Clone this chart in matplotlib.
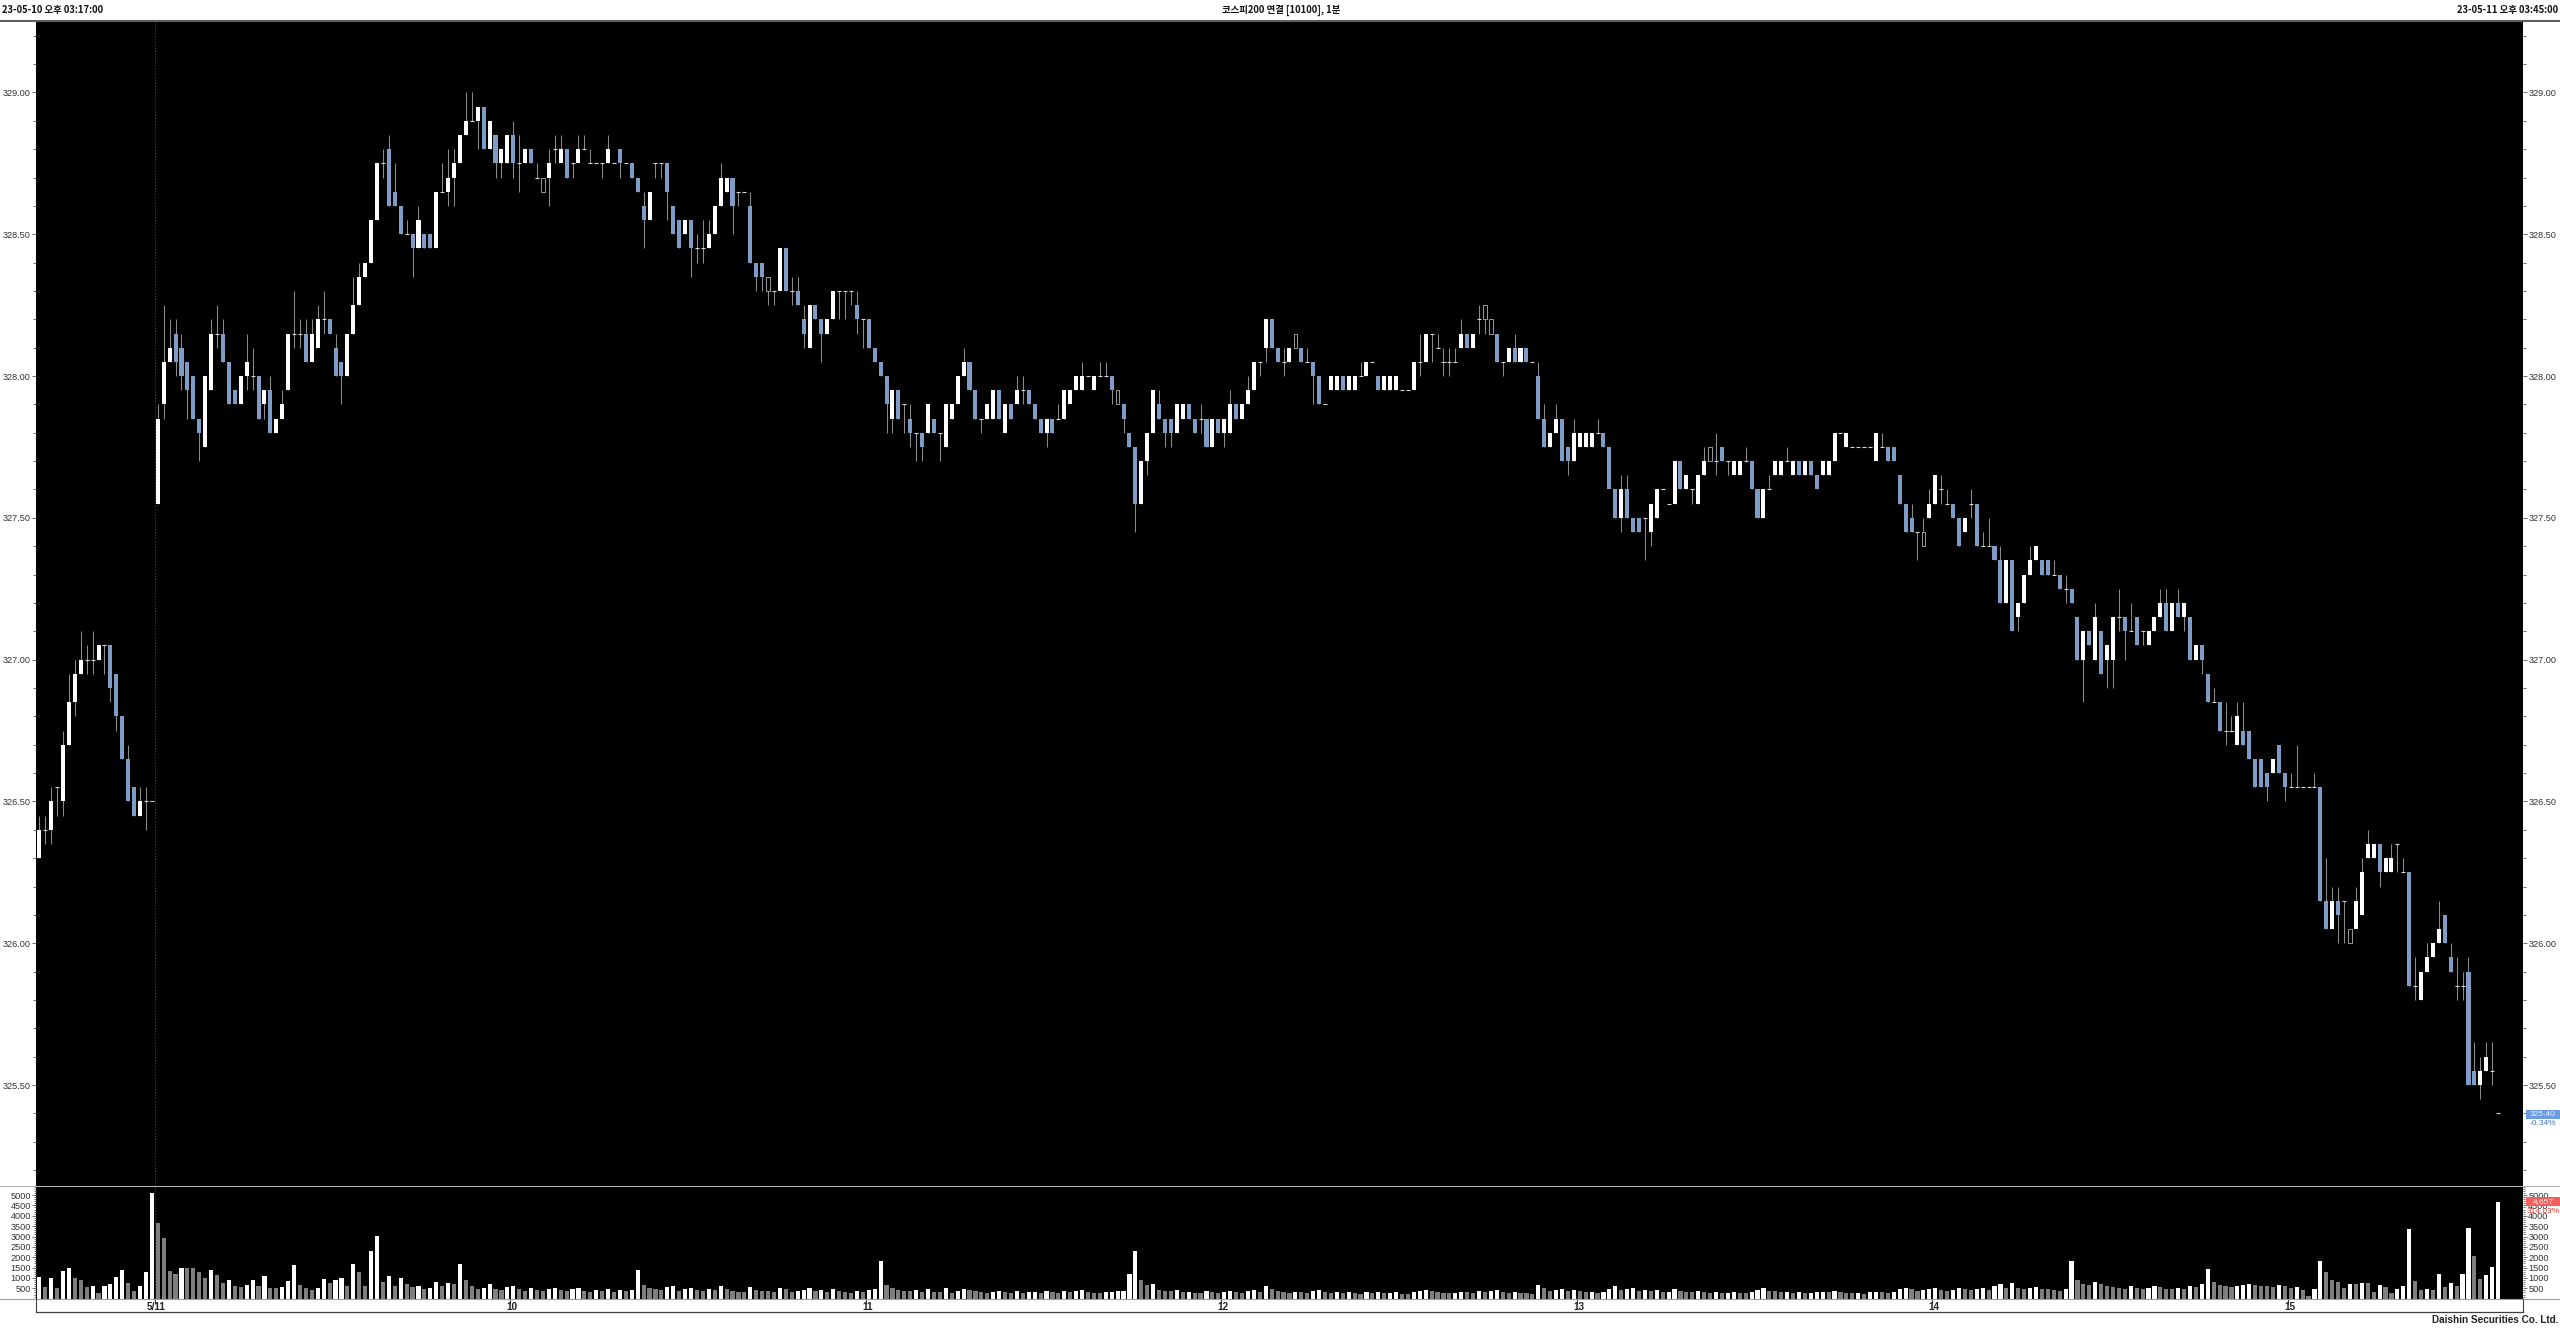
import matplotlib
matplotlib.use('Agg')
import matplotlib.pyplot as plt
from matplotlib.lines import Line2D
from matplotlib.patches import Rectangle
from matplotlib.ticker import MultipleLocator, FixedLocator, FormatStrFormatter
import numpy as np

# ---------------- data ----------------
opens = [
 326.30,326.40,326.40,326.55,326.50,326.70,326.85,326.95,327.00,327.00,
 327.00,327.05,327.05,326.95,326.80,326.65,326.55,326.45,326.50,326.50,
 327.55,327.90,328.05,328.15,328.10,328.05,328.00,327.85,327.75,327.95,
 328.15,328.15,328.05,327.95,327.90,328.00,328.00,328.00,327.90,327.95,
 327.80,327.85,327.95,328.15,328.15,328.15,328.05,328.10,328.20,328.20,
 328.10,328.05,328.00,328.15,328.25,328.35,328.40,328.55,328.75,328.80,
 328.65,328.60,328.50,328.50,328.45,328.50,328.50,328.45,328.65,328.65,
 328.70,328.75,328.85,328.90,328.90,328.95,328.80,328.85,328.75,328.75,
 328.85,328.75,328.75,328.80,328.70,328.70,328.70,328.80,328.75,328.80,
 328.75,328.75,328.80,328.75,328.75,328.75,328.75,328.75,328.80,328.75,
 328.75,328.70,328.60,328.55,328.75,328.75,328.75,328.60,328.55,328.50,
 328.55,328.45,328.45,328.45,328.50,328.60,328.65,328.70,328.65,328.65,
 328.60,328.40,328.40,328.35,328.30,328.30,328.45,328.30,328.30,328.20,
 328.10,328.25,328.20,328.15,328.20,328.30,328.30,328.30,328.25,328.20,
 328.20,328.10,328.05,328.00,327.85,327.95,327.90,327.85,327.80,327.80,
 327.80,327.85,327.80,327.75,327.85,327.90,328.00,328.05,327.95,327.85,
 327.85,327.85,327.95,327.80,327.90,327.90,327.95,327.95,327.90,327.85,
 327.80,327.85,327.85,327.85,327.90,327.95,327.95,328.00,327.95,328.00,
 328.00,328.00,327.95,327.90,327.80,327.75,327.55,327.70,327.80,327.90,
 327.85,327.85,327.80,327.85,327.90,327.85,327.85,327.85,327.75,327.85,
 327.80,327.80,327.90,327.85,327.90,327.95,328.05,328.10,328.20,328.10,
 328.05,328.05,328.10,328.10,328.05,328.05,328.00,327.90,327.95,327.95,
 328.00,327.95,327.95,328.00,328.00,328.05,328.00,327.95,327.95,327.95,
 327.95,327.95,327.95,328.05,328.05,328.15,328.10,328.05,328.05,328.05,
 328.10,328.15,328.10,328.20,328.20,328.20,328.15,328.05,328.05,328.10,
 328.05,328.10,328.05,328.00,327.85,327.75,327.80,327.85,327.75,327.70,
 327.75,327.75,327.75,327.80,327.80,327.75,327.60,327.50,327.60,327.50,
 327.50,327.50,327.45,327.50,327.60,327.55,327.55,327.70,327.60,327.60,
 327.55,327.65,327.70,327.70,327.75,327.70,327.65,327.65,327.70,327.70,
 327.60,327.50,327.60,327.65,327.65,327.70,327.65,327.70,327.65,327.70,
 327.65,327.65,327.65,327.70,327.80,327.75,327.75,327.75,327.75,327.75,
 327.70,327.75,327.75,327.75,327.65,327.55,327.50,327.45,327.45,327.50,
 327.55,327.60,327.55,327.55,327.50,327.45,327.55,327.55,327.40,327.40,
 327.40,327.35,327.20,327.35,327.15,327.20,327.30,327.35,327.35,327.35,
 327.30,327.30,327.25,327.25,327.15,327.00,327.10,327.00,327.10,327.00,
 327.00,327.15,327.15,327.10,327.15,327.10,327.05,327.10,327.15,327.20,
 327.10,327.20,327.15,327.15,327.00,327.05,326.95,326.85,326.85,326.75,
 326.75,326.70,326.75,326.75,326.65,326.65,326.60,326.60,326.70,326.60,
 326.55,326.55,326.55,326.55,326.55,326.55,326.15,326.05,326.15,326.15,
 326.05,326.05,326.10,326.30,326.30,326.35,326.25,326.25,326.35,326.25,
 326.25,325.85,325.80,325.90,325.95,326.00,326.10,325.95,325.85,325.85,
 325.90,325.55,325.50,325.55,325.55,325.40]
closes = [
 326.40,326.40,326.50,326.55,326.70,326.85,326.95,327.00,327.00,327.00,
 327.05,327.05,326.90,326.80,326.65,326.50,326.45,326.50,326.50,326.50,
 327.85,328.05,328.10,328.05,328.00,327.95,327.85,327.80,328.00,328.15,
 328.15,328.05,327.90,327.90,328.00,328.05,328.00,327.85,327.95,327.80,
 327.85,327.90,328.15,328.15,328.15,328.05,328.15,328.20,328.20,328.15,
 328.00,328.00,328.15,328.25,328.35,328.40,328.55,328.75,328.75,328.60,
 328.60,328.50,328.50,328.45,328.55,328.45,328.45,328.65,328.65,328.70,
 328.75,328.85,328.90,328.90,328.95,328.80,328.90,328.75,328.80,328.85,
 328.75,328.75,328.80,328.75,328.70,328.65,328.75,328.80,328.80,328.70,
 328.75,328.80,328.80,328.75,328.75,328.75,328.80,328.75,328.75,328.75,
 328.70,328.65,328.55,328.65,328.75,328.75,328.65,328.50,328.45,328.55,
 328.45,328.45,328.45,328.50,328.60,328.70,328.70,328.60,328.65,328.65,
 328.40,328.35,328.35,328.30,328.30,328.45,328.30,328.30,328.25,328.15,
 328.25,328.20,328.15,328.20,328.30,328.30,328.30,328.30,328.20,328.20,
 328.10,328.05,328.00,327.90,327.95,327.85,327.90,327.80,327.80,327.75,
 327.90,327.80,327.80,327.90,327.90,328.00,328.05,327.95,327.85,327.85,
 327.90,327.95,327.85,327.90,327.85,327.95,327.95,327.90,327.85,327.80,
 327.85,327.80,327.85,327.95,327.95,328.00,328.00,328.00,328.00,328.00,
 328.00,327.95,327.90,327.85,327.75,327.55,327.70,327.80,327.95,327.85,
 327.80,327.80,327.90,327.90,327.85,327.80,327.85,327.75,327.85,327.80,
 327.85,327.90,327.85,327.90,327.95,328.05,328.05,328.20,328.10,328.05,
 328.05,328.10,328.15,328.05,328.05,328.00,327.90,327.90,328.00,328.00,
 327.95,328.00,328.00,328.00,328.05,328.05,327.95,328.00,328.00,328.00,
 327.95,327.95,328.05,328.05,328.15,328.15,328.10,328.05,328.05,328.05,
 328.15,328.10,328.15,328.20,328.25,328.15,328.05,328.05,328.10,328.05,
 328.10,328.05,328.05,327.85,327.75,327.80,327.85,327.70,327.70,327.80,
 327.80,327.80,327.80,327.80,327.75,327.60,327.50,327.60,327.50,327.45,
 327.45,327.50,327.55,327.60,327.60,327.55,327.70,327.60,327.65,327.60,
 327.65,327.70,327.75,327.70,327.70,327.70,327.70,327.70,327.70,327.60,
 327.50,327.60,327.60,327.70,327.70,327.70,327.70,327.65,327.70,327.65,
 327.60,327.70,327.70,327.80,327.80,327.80,327.75,327.75,327.75,327.75,
 327.80,327.75,327.70,327.70,327.55,327.45,327.45,327.45,327.40,327.55,
 327.65,327.60,327.55,327.50,327.40,327.50,327.55,327.40,327.40,327.40,
 327.35,327.20,327.35,327.10,327.20,327.30,327.35,327.40,327.30,327.30,
 327.30,327.25,327.25,327.20,327.00,327.10,327.05,327.15,326.95,327.05,
 327.15,327.15,327.10,327.10,327.05,327.10,327.10,327.15,327.20,327.10,
 327.20,327.15,327.20,327.00,327.05,327.00,326.85,326.85,326.75,326.75,
 326.75,326.80,326.70,326.65,326.55,326.55,326.55,326.65,326.60,326.55,
 326.55,326.55,326.55,326.55,326.55,326.15,326.05,326.15,326.10,326.15,
 326.00,326.15,326.25,326.35,326.35,326.25,326.30,326.30,326.35,326.25,
 325.85,325.85,325.90,325.95,326.00,326.05,326.00,325.90,325.85,325.85,
 325.50,325.50,325.55,325.60,325.55,325.40]
highs = [
 326.45,326.45,326.55,326.55,326.75,326.95,327.00,327.10,327.05,327.10,
 327.05,327.05,327.05,326.95,326.80,326.70,326.55,326.55,326.55,326.50,
 327.90,328.25,328.20,328.20,328.15,328.05,328.00,327.85,328.00,328.20,
 328.25,328.20,328.05,327.95,328.00,328.15,328.10,328.00,327.95,328.00,
 327.85,327.95,328.15,328.30,328.20,328.20,328.20,328.25,328.30,328.20,
 328.15,328.05,328.15,328.35,328.40,328.40,328.55,328.75,328.80,328.85,
 328.75,328.60,328.55,328.50,328.60,328.50,328.50,328.65,328.75,328.80,
 328.80,328.85,329.00,329.00,328.95,328.95,328.90,328.85,328.80,328.85,
 328.90,328.85,328.80,328.80,328.75,328.70,328.80,328.85,328.85,328.80,
 328.75,328.85,328.85,328.80,328.75,328.75,328.85,328.75,328.80,328.75,
 328.75,328.70,328.65,328.65,328.75,328.75,328.75,328.60,328.55,328.55,
 328.55,328.50,328.55,328.55,328.60,328.75,328.70,328.70,328.65,328.65,
 328.65,328.40,328.40,328.35,328.30,328.45,328.45,328.35,328.35,328.25,
 328.25,328.25,328.20,328.20,328.30,328.30,328.30,328.30,328.30,328.20,
 328.20,328.10,328.05,328.00,327.95,327.95,327.90,327.90,327.80,327.80,
 327.90,327.85,327.80,327.90,327.90,328.00,328.10,328.05,327.95,327.85,
 327.90,327.95,327.95,327.90,327.90,328.00,328.00,327.95,327.90,327.85,
 327.85,327.85,327.90,327.95,327.95,328.00,328.05,328.00,328.00,328.05,
 328.05,328.00,327.95,327.90,327.80,327.75,327.70,327.80,327.95,327.95,
 327.85,327.85,327.90,327.90,327.90,327.85,327.90,327.85,327.85,327.85,
 327.85,327.95,327.90,327.90,328.00,328.05,328.05,328.20,328.20,328.10,
 328.10,328.10,328.15,328.10,328.10,328.05,328.00,327.90,328.00,328.00,
 328.00,328.00,328.00,328.05,328.05,328.05,328.00,328.00,328.00,328.00,
 327.95,327.95,328.05,328.15,328.15,328.15,328.15,328.10,328.10,328.10,
 328.20,328.15,328.15,328.25,328.25,328.20,328.15,328.05,328.10,328.15,
 328.10,328.10,328.05,328.05,327.90,327.80,327.90,327.85,327.75,327.85,
 327.80,327.80,327.80,327.85,327.80,327.75,327.60,327.65,327.65,327.50,
 327.50,327.50,327.55,327.60,327.60,327.55,327.70,327.70,327.65,327.60,
 327.65,327.75,327.75,327.80,327.75,327.70,327.70,327.70,327.75,327.70,
 327.60,327.60,327.65,327.70,327.70,327.75,327.70,327.70,327.70,327.70,
 327.65,327.70,327.70,327.80,327.80,327.80,327.75,327.75,327.75,327.75,
 327.80,327.80,327.75,327.75,327.65,327.55,327.55,327.45,327.50,327.60,
 327.65,327.65,327.60,327.55,327.50,327.50,327.60,327.55,327.45,327.50,
 327.40,327.40,327.35,327.35,327.20,327.30,327.40,327.40,327.35,327.35,
 327.35,327.30,327.30,327.25,327.15,327.10,327.10,327.20,327.10,327.05,
 327.15,327.25,327.15,327.20,327.15,327.10,327.10,327.15,327.25,327.25,
 327.20,327.25,327.20,327.15,327.05,327.05,326.95,326.90,326.85,326.85,
 326.80,326.85,326.85,326.75,326.65,326.65,326.60,326.65,326.70,326.60,
 326.60,326.70,326.55,326.55,326.60,326.55,326.30,326.20,326.20,326.15,
 326.05,326.20,326.30,326.40,326.35,326.35,326.30,326.35,326.35,326.30,
 326.25,325.95,325.90,326.00,326.00,326.15,326.10,326.00,325.95,325.90,
 325.95,325.65,325.60,325.65,325.65,325.40]
lows = [
 326.30,326.35,326.35,326.45,326.45,326.70,326.80,326.95,326.95,326.95,
 327.00,326.95,326.85,326.75,326.65,326.50,326.45,326.45,326.40,326.50,
 327.55,327.85,328.05,328.00,327.95,327.85,327.85,327.70,327.75,327.95,
 328.10,328.05,327.90,327.90,327.90,327.95,327.95,327.85,327.85,327.80,
 327.80,327.85,327.95,328.10,328.10,328.05,328.05,328.10,328.15,328.15,
 328.00,327.90,328.00,328.15,328.25,328.35,328.40,328.55,328.70,328.60,
 328.60,328.50,328.50,328.35,328.45,328.45,328.45,328.45,328.65,328.60,
 328.60,328.75,328.85,328.90,328.80,328.80,328.80,328.70,328.70,328.75,
 328.70,328.65,328.75,328.75,328.70,328.65,328.60,328.75,328.75,328.70,
 328.70,328.75,328.80,328.75,328.75,328.70,328.75,328.75,328.70,328.75,
 328.70,328.65,328.45,328.55,328.70,328.70,328.55,328.50,328.45,328.50,
 328.35,328.40,328.40,328.45,328.50,328.60,328.65,328.50,328.60,328.65,
 328.40,328.30,328.30,328.25,328.25,328.30,328.30,328.25,328.25,328.10,
 328.10,328.20,328.05,328.15,328.20,328.20,328.20,328.25,328.15,328.10,
 328.10,328.05,328.00,327.80,327.80,327.85,327.80,327.75,327.70,327.70,
 327.80,327.80,327.70,327.75,327.85,327.90,328.00,327.95,327.85,327.80,
 327.85,327.85,327.85,327.80,327.85,327.90,327.90,327.90,327.85,327.80,
 327.75,327.80,327.85,327.85,327.90,327.95,327.95,328.00,327.95,328.00,
 328.00,327.90,327.90,327.80,327.75,327.45,327.55,327.65,327.80,327.85,
 327.75,327.75,327.80,327.85,327.85,327.80,327.80,327.75,327.75,327.80,
 327.75,327.80,327.85,327.85,327.90,327.95,328.00,328.05,328.10,328.05,
 328.00,328.05,328.10,328.05,328.05,327.90,327.90,327.90,327.95,327.95,
 327.95,327.95,327.95,328.00,328.00,328.05,327.95,327.95,327.95,327.95,
 327.95,327.95,327.95,328.00,328.05,328.05,328.10,328.00,328.00,328.05,
 328.10,328.10,328.10,328.15,328.15,328.15,328.05,328.00,328.05,328.05,
 328.05,328.05,328.05,327.85,327.75,327.75,327.80,327.70,327.65,327.70,
 327.75,327.75,327.75,327.80,327.75,327.60,327.50,327.45,327.50,327.45,
 327.45,327.35,327.40,327.50,327.60,327.55,327.55,327.60,327.60,327.55,
 327.55,327.65,327.70,327.65,327.70,327.65,327.65,327.65,327.70,327.60,
 327.50,327.50,327.60,327.65,327.65,327.70,327.65,327.65,327.65,327.65,
 327.60,327.65,327.65,327.70,327.80,327.75,327.75,327.75,327.75,327.75,
 327.70,327.75,327.70,327.70,327.55,327.45,327.45,327.35,327.40,327.50,
 327.55,327.55,327.55,327.50,327.40,327.45,327.50,327.40,327.40,327.40,
 327.35,327.20,327.20,327.10,327.10,327.20,327.30,327.35,327.30,327.30,
 327.30,327.25,327.20,327.20,327.00,326.85,327.05,327.00,326.95,326.90,
 326.90,327.10,327.00,327.10,327.05,327.05,327.05,327.10,327.15,327.10,
 327.10,327.15,327.10,327.00,327.00,326.95,326.85,326.85,326.75,326.70,
 326.75,326.70,326.70,326.65,326.55,326.55,326.50,326.60,326.60,326.50,
 326.55,326.55,326.55,326.55,326.55,326.15,326.05,326.05,326.00,326.00,
 326.00,326.05,326.10,326.30,326.30,326.20,326.25,326.25,326.25,326.25,
 325.85,325.80,325.80,325.90,325.95,326.00,326.00,325.90,325.80,325.80,
 325.50,325.50,325.45,325.55,325.50,325.40]
hollow_idx = [85, 123, 182, 212, 244, 245, 282, 318, 390]

volumes = [
 1060, 580,1010, 515,1330,1460, 980, 900, 550, 610,
  260, 595, 710,1045,1370, 740, 385, 595,1270,5080,
 3630,2910,1330,1170,1460,1460,1460,1290,1010,1400,
 1140, 770, 900, 610, 550, 660, 880, 610,1090, 530,
  530, 560, 850,1610, 640, 500, 400, 530, 950, 740,
  880,1000, 610,1655,1270, 610,2300,3005, 800,1080,
  610, 980, 700, 560, 610, 450, 500, 800, 620, 760,
  700,1650, 900, 600, 450, 520, 700, 480, 400, 560,
  620, 450, 380, 500, 420, 350, 480, 520, 400, 380,
  450, 520, 360, 300, 420, 380, 450, 330, 400, 380,
  420,1400, 650, 520, 480, 400, 560, 620, 380, 450,
  500, 420, 350, 480, 400, 620, 450, 380, 320, 300,
  560, 420, 380, 350, 300, 520, 480, 330, 360, 420,
  520, 380, 400, 300, 450, 380, 300, 280, 350, 320,
  420, 480,1800, 650, 520, 400, 380, 350, 420, 300,
  450, 320, 300, 520, 280, 380, 450, 400, 350, 300,
  280, 320, 380, 300, 280, 350, 260, 300, 320, 280,
  350, 300, 260, 380, 300, 350, 420, 300, 280, 260,
  300, 320, 350, 380, 1200,2300,900, 650, 700, 420,
  380, 350, 400, 300, 320, 280, 260, 350, 300, 280,
  320, 380, 300, 280, 350, 420, 300, 620, 480, 350,
  300, 280, 320, 300, 260, 380, 400, 320, 280, 300,
  260, 300, 280, 250, 300, 280, 320, 260, 280, 300,
  250, 240, 300, 350, 420, 380, 300, 280, 260, 280,
  320, 300, 280, 350, 320, 360, 400, 320, 280, 300,
  280, 260, 240, 650, 520, 380, 400, 450, 380, 420,
  360, 300, 320, 280, 300, 480, 620, 400, 450, 500,
  380, 420, 350, 400, 300, 320, 450, 380, 320, 300,
  350, 320, 280, 300, 260, 280, 300, 280, 260, 320,
  420, 500, 380, 350, 300, 320, 280, 300, 260, 280,
  300, 320, 300, 380, 300, 280, 260, 280, 250, 300,
  320, 300, 280, 320, 480, 520, 450, 380, 400, 450,
  500, 420, 380, 400, 520, 450, 400, 480, 500, 420,
  620, 700, 520, 750, 500, 480, 520, 560, 480, 450,
  420, 380, 450,1800, 900, 700, 650, 800, 700, 600,
  550, 520, 480, 600, 500, 450, 520, 600, 550, 480,
  450, 520, 480, 600, 550, 700,1450, 800, 650, 600,
  550, 600, 650, 700, 680, 620, 600, 580, 650, 600,
  500, 550, 405, 113, 470,1810,1295, 905, 793, 518,
  712, 712, 777, 745, 340, 648, 583, 291, 453, 631,
 3384, 842, 421, 486, 421,1214, 550, 745, 631,1214,
 3400,2040, 939,1134,1522,4657]

tick_pos = [20, 80, 140, 200, 260, 320, 380]
tick_labels = ['5/11', '10', '11', '12', '13', '14', '15']

title_left = '23-05-10 오후 03:17:00'
title_center = '코스피200 연결 [10100], 1분'
title_right = '23-05-11 오후 03:45:00'
last_price_label = '325.40'
last_change_label = '-0.34%'
last_vol_label = '4,657'
last_vol_ratio = '314.03%'

# ---------------- figure ----------------
W, H = 2560, 1328
fig = plt.figure(figsize=(25.6, 13.28), dpi=100, facecolor='white')

def fx(px):
    return px / W

def fy(py):
    return 1 - py / H

NARROW = ['Liberation Sans Narrow', 'Liberation Sans', 'DejaVu Sans']
KFONT = ['Noto Sans CJK KR', 'DejaVu Sans']

L_PX, R_PX = 36, 2523
TOP_PX, MID_PX, VBOT_PX, DBOT_PX = 20.7, 1186, 1298.7, 1311.7

ax = fig.add_axes([fx(L_PX), fy(MID_PX), fx(R_PX) - fx(L_PX), fy(TOP_PX) - fy(MID_PX)])
axv = fig.add_axes([fx(L_PX), fy(VBOT_PX), fx(R_PX) - fx(L_PX), fy(MID_PX) - fy(VBOT_PX)])
axd = fig.add_axes([fx(L_PX), fy(DBOT_PX), fx(R_PX) - fx(L_PX), fy(VBOT_PX) - fy(DBOT_PX)])

o = np.array(opens); c = np.array(closes); h = np.array(highs); l = np.array(lows)
n = len(o)
x = np.arange(n)
hollow = np.zeros(n, bool)
hollow[hollow_idx] = True
up = (c > o) & ~hollow
dn = (c < o) & ~hollow
eq = (c == o) & ~hollow

XL = (-0.557, 419.2)
for a in (ax, axv, axd):
    a.set_xlim(*XL)
    for s in a.spines.values():
        s.set_visible(False)

ax.set_facecolor('black')
axv.set_facecolor('black')
axd.set_facecolor('white')

bw = 0.68
ax.vlines(x, l, h, color='#8c8c8c', lw=0.75, zorder=2)
ax.bar(x[up], (c - o)[up], bottom=o[up], width=bw, color='white', lw=0, zorder=3)
ax.bar(x[dn], (o - c)[dn], bottom=c[dn], width=bw, color='#7d9cc6', lw=0, zorder=3)
ax.bar(x[hollow], np.abs(c - o)[hollow], bottom=np.minimum(o, c)[hollow], width=bw * 0.8,
       facecolor='black', edgecolor='#9a9a9a', lw=0.7, zorder=3)
ax.hlines(o[eq], x[eq] - bw / 2, x[eq] + bw / 2, color='#d8d8d8', lw=0.8, zorder=3)

ax.axvline(19.5, color='#505050', ls=(0, (1, 2)), lw=0.7, zorder=1)
axv.axvline(19.5, color='#505050', ls=(0, (1, 2)), lw=0.7, zorder=1)

ax.set_ylim(325.144, 329.253)
ax.yaxis.set_major_locator(MultipleLocator(0.5))
ax.yaxis.set_minor_locator(MultipleLocator(0.1))
ax.yaxis.set_major_formatter(FormatStrFormatter('%.2f'))
ax.tick_params(axis='y', which='both', left=True, right=True, labelleft=True, labelright=True,
               direction='out', colors='#555555', labelcolor='#333333', labelsize=6.6, width=0.6, pad=0.8)
ax.tick_params(axis='y', which='major', length=3)
ax.tick_params(axis='y', which='minor', length=2)
ax.tick_params(axis='x', which='both', bottom=False, labelbottom=False)

v = np.array(volumes, dtype=float)
vcol = ['white'] + ['white' if v[i] > v[i - 1] else '#7f7f7f' for i in range(1, n)]
axv.bar(x, v, width=0.7, color=vcol, lw=0, zorder=3)
axv.set_ylim(0, 5437)
axv.yaxis.set_major_locator(FixedLocator(list(range(500, 5001, 500))))
axv.yaxis.set_minor_locator(MultipleLocator(100))
axv.tick_params(axis='y', which='both', left=True, right=True, labelleft=True, labelright=True,
                direction='out', colors='#555555', labelcolor='#333333', labelsize=6.6, width=0.6, pad=0.8)
axv.tick_params(axis='y', which='major', length=3)
axv.tick_params(axis='y', which='minor', length=1.5)
axv.tick_params(axis='x', which='both', bottom=False, labelbottom=False)

for a in (ax, axv):
    for lab in a.get_yticklabels():
        lab.set_family(NARROW)

axd.set_ylim(0, 1)
axd.set_xticks([]); axd.set_yticks([])
axd.vlines(np.array(tick_pos) - 0.5, 0.62, 1.0, color='#404040', lw=0.8)
for tp, tl in zip(tick_pos, tick_labels):
    axd.text(tp - 0.2, 0.36, tl, ha='center', va='center', fontsize=7.2, fontweight='bold',
             family=['Liberation Sans', 'DejaVu Sans'], color='#222222')

# frame lines
def hline(y, x0, x1, color, lw):
    fig.add_artist(Line2D([fx(x0), fx(x1)], [fy(y), fy(y)], color=color, lw=lw, transform=fig.transFigure))

def vline(xp, y0, y1, color, lw):
    fig.add_artist(Line2D([fx(xp), fx(xp)], [fy(y0), fy(y1)], color=color, lw=lw, transform=fig.transFigure))

hline(TOP_PX, 0, W, '#5e5e5e', 1.5)
hline(MID_PX, 0, W, '#b4b4b4', 0.8)
hline(VBOT_PX, 0, W, '#a0a0a0', 0.8)
hline(DBOT_PX, L_PX, R_PX, '#404040', 0.9)
vline(L_PX, VBOT_PX, DBOT_PX, '#404040', 0.8)
vline(R_PX, VBOT_PX, DBOT_PX, '#404040', 0.8)

# header texts
fig.text(fx(2), fy(10), title_left, ha='left', va='center', fontsize=6.8, fontweight='bold', family=KFONT, color='#111111')
fig.text(fx(1281), fy(10), title_center, ha='center', va='center', fontsize=6.8, fontweight='bold', family=KFONT, color='#111111')
fig.text(fx(2558), fy(10), title_right, ha='right', va='center', fontsize=6.8, fontweight='bold', family=KFONT, color='#111111')

fig.text(fx(2559), fy(1320), 'Daishin Securities Co. Ltd.', ha='right', va='center', fontsize=7.2,
         fontweight='bold', family=NARROW, color='#222222')

# right-side tags
fig.add_artist(Rectangle((fx(2526), fy(1118.5)), fx(2560) - fx(2526), fy(1110) - fy(1118.5),
                         transform=fig.transFigure, facecolor='#6c9be0', edgecolor='none', zorder=5))
fig.text(fx(2543), fy(1114.2), last_price_label, ha='center', va='center', fontsize=6, family=NARROW,
         color='#e8f0ff', zorder=6)
fig.text(fx(2543), fy(1123.5), last_change_label, ha='center', va='center', fontsize=6, family=NARROW,
         color='#3d6fd0', zorder=6)
fig.add_artist(Rectangle((fx(2526), fy(1206)), fx(2560) - fx(2526), fy(1197) - fy(1206),
                         transform=fig.transFigure, facecolor='#f25f5f', edgecolor='none', zorder=5))
fig.text(fx(2543), fy(1201.6), last_vol_label, ha='center', va='center', fontsize=6, family=NARROW,
         color='#ffe8e8', zorder=6)
fig.text(fx(2543), fy(1211.5), last_vol_ratio, ha='center', va='center', fontsize=6, family=NARROW,
         color='#e03c3c', zorder=6)

fig.savefig('out.png', dpi=100, facecolor='white')
